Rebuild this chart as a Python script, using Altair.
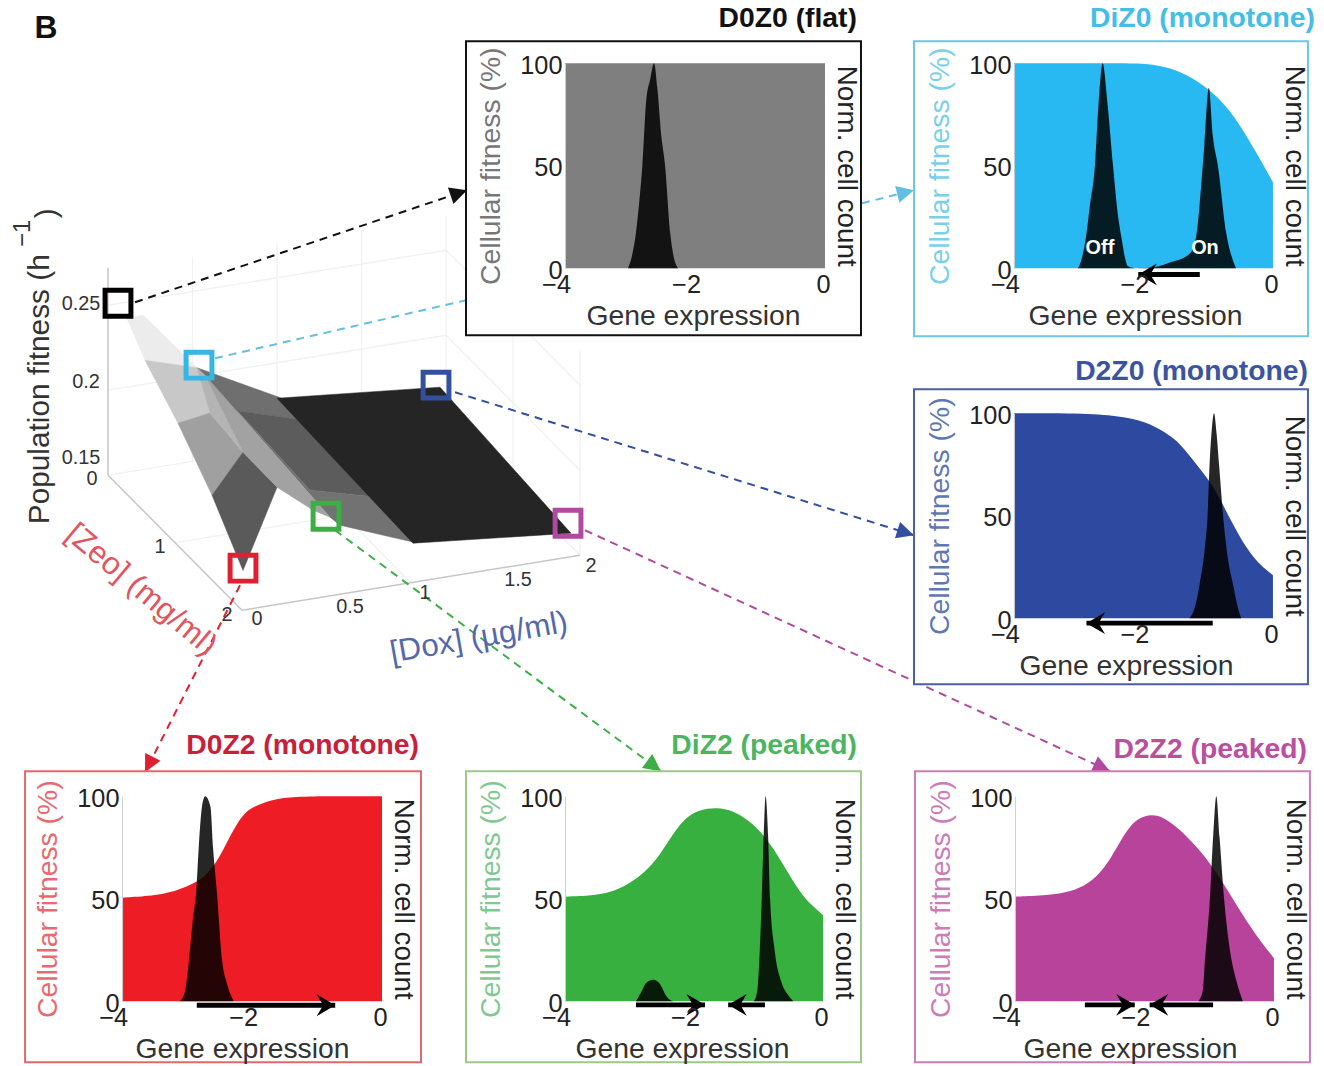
import math
import altair as alt
import pandas as pd

W, H = 1316, 1058
K = 0.994          # the taken picture is slightly reduced: layout positions are compensated
DY = 3
FONT = "Liberation Sans"

# ---- gene-expression curves -----------------------------------------------
d0z0_fit_x = [-4, -2, 0]
d0z0_fit_y = [100, 100, 100]
d0z0_cnt_x = [-3.03, -2.97, -2.91, -2.85, -2.81, -2.75, -2.69, -2.63, -2.58, -2.52, -2.46, -2.38, -2.33, -2.26]
d0z0_cnt_y = [0, 6, 17, 35, 50, 82, 92, 100, 88, 65, 50, 17, 6, 0]

diz0_fit_x = [-4, -3, -2.5, -2.08, -1.78, -1.57, -1.31, -1.06, -0.8, -0.54, -0.28, 0]
diz0_fit_y = [100, 100, 100, 100, 99, 97.5, 94, 89, 82, 71.5, 57.7, 42]
diz0_cnt_x = [-3.01, -2.96, -2.88, -2.83, -2.75, -2.69, -2.63, -2.56, -2.47, -2.39, -2.34, -2.24, -2.1,
              -1.83, -1.57, -1.31, -1.21, -1.16, -1.11, -1.06, -0.99, -0.93, -0.85, -0.72, -0.62, -0.57]
diz0_cnt_y = [0, 4, 17, 30, 50, 82, 100, 82, 50, 25, 15, 1, 0,
              0.5, 3, 6.5, 12, 22, 40, 60, 88, 65, 50, 17, 4, 0]

d2z0_fit_x = [-4, -2.86, -2.34, -1.98, -1.67, -1.42, -1.16, -0.95, -0.75, -0.54, -0.28, 0]
d2z0_fit_y = [100, 100, 98.5, 96, 91, 85, 74, 66, 54, 41, 28, 21]
d2z0_cnt_x = [-1.29, -1.21, -1.13, -1.05, -1.01, -0.98, -0.95, -0.91, -0.87, -0.83, -0.77, -0.7, -0.62, -0.54, -0.49]
d2z0_cnt_y = [0, 5, 17, 35, 50, 74, 90, 100, 90, 74, 50, 30, 17, 5, 0]

d0z2_fit_x = [-4, -3.51, -3.26, -3, -2.79, -2.59, -2.44, -2.28, -2.13, -1.97, -1.72, -1.46, -0.95, 0]
d0z2_fit_y = [50.5, 51.5, 53, 56, 59, 65.5, 74, 84, 91.5, 95, 98, 99.5, 100, 100]
d0z2_cnt_x = [-3.11, -3.03, -2.97, -2.91, -2.86, -2.82, -2.77, -2.72, -2.64, -2.6, -2.54, -2.46, -2.38, -2.28]
d0z2_cnt_y = [0, 5, 20, 40, 53, 75, 95, 100, 95, 75, 53, 20, 8, 0]

diz2_fit_x = [-4, -3.56, -3.3, -3.05, -2.79, -2.53, -2.32, -2.12, -1.91, -1.65, -1.39, -1.14, -0.88, -0.62, -0.36, -0.15, 0]
diz2_fit_y = [51, 51.5, 53, 56.5, 62, 71, 82, 90, 93.5, 94.5, 93, 88, 80, 67, 53, 46, 42]
diz2_cnt_x = [-2.9, -2.81, -2.74, -2.63, -2.53, -2.43, -2.32, -1.08, -1.02, -0.98, -0.95, -0.92, -0.89,
              -0.85, -0.82, -0.75, -0.65, -0.54, -0.46]
diz2_cnt_y = [0, 5, 9, 10.5, 8.5, 2.5, 0, 0, 5, 25, 50, 80, 100, 80, 50, 25, 10, 3, 0]

d2z2_fit_x = [-4, -3.49, -3.13, -2.87, -2.61, -2.41, -2.2, -2, -1.79, -1.58, -1.33, -1.07, -0.81, -0.56, -0.3, 0]
d2z2_fit_y = [51, 51.5, 53.5, 57, 65, 76, 87, 90.7, 91, 87, 80, 71, 59, 46, 33, 21]
d2z2_cnt_x = [-1.17, -1.1, -1.07, -0.99, -0.94, -0.89, -0.84, -0.77, -0.68, -0.58, -0.48]
d2z2_cnt_y = [0, 5, 18, 50, 80, 100, 80, 50, 25, 10, 0]

# arrows on each panel: start gene, end gene, fitness level of the arrow
diz0_arrows = [(-1.13, -2.08, -3)]
d2z0_arrows = [(-0.93, -2.88, -2.4)]
d0z2_arrows = [(-2.85, -0.72, -2)]
diz2_arrows = [(-2.9, -1.83, -1.8), (-0.9, -1.47, -1.8)]
d2z2_arrows = [(-2.92, -2.15, -1.8), (-0.94, -1.92, -1.8)]

# ---- layout of the six panels (page pixels) ---------------------------------
panels = [
    dict(name="D0Z0 (flat)", fx=d0z0_fit_x, fy=d0z0_fit_y, cx=d0z0_cnt_x, cy=d0z0_cnt_y, arrows=[],
         frame=(466, 41, 861, 335), plot=(565, 63, 825, 268), fill="#7f7f7f", edge="#111111",
         tcol="#111111", ycol="#777777", tx=857, ty=18, gx=693),
    dict(name="DiZ0 (monotone)", fx=diz0_fit_x, fy=diz0_fit_y, cx=diz0_cnt_x, cy=diz0_cnt_y, arrows=diz0_arrows,
         frame=(914, 41, 1308, 336), plot=(1014, 63, 1273, 268), fill="#29b9f2", edge="#6cc6e4",
         tcol="#45bde6", ycol="#7ad0ea", tx=1315, ty=18, gx=1135),
    dict(name="D2Z0 (monotone)", fx=d2z0_fit_x, fy=d2z0_fit_y, cx=d2z0_cnt_x, cy=d2z0_cnt_y, arrows=d2z0_arrows,
         frame=(914, 389, 1308, 684), plot=(1014, 413, 1273, 618), fill="#2e4aa0", edge="#4a5fa8",
         tcol="#3b54a0", ycol="#5f78b5", tx=1308, ty=371, gx=1126),
    dict(name="D0Z2 (monotone)", fx=d0z2_fit_x, fy=d0z2_fit_y, cx=d0z2_cnt_x, cy=d0z2_cnt_y, arrows=d0z2_arrows,
         frame=(25, 771, 421, 1062), plot=(122, 796, 382, 1001), fill="#ee1c25", edge="#e0696b",
         tcol="#c8203a", ycol="#e8696f", tx=419, ty=745, gx=242),
    dict(name="DiZ2 (peaked)", fx=diz2_fit_x, fy=diz2_fit_y, cx=diz2_cnt_x, cy=diz2_cnt_y, arrows=diz2_arrows,
         frame=(466, 771, 861, 1062), plot=(565, 796, 823, 1001), fill="#38b03f", edge="#9cc98a",
         tcol="#4bb560", ycol="#7fc991", tx=857, ty=745, gx=682),
    dict(name="D2Z2 (peaked)", fx=d2z2_fit_x, fy=d2z2_fit_y, cx=d2z2_cnt_x, cy=d2z2_cnt_y, arrows=d2z2_arrows,
         frame=(915, 771, 1310, 1062), plot=(1015, 796, 1274, 1001), fill="#b8439a", edge="#c97fb5",
         tcol="#bb4f9f", ycol="#cd7cb8", tx=1307, ty=749, gx=1130),
]

# ---- fitness landscape: (dox, zeo, fitness) vertices of each facet ----------
facets = [
    ("#ececec", [(.114, 0, .249), (.211, 0, .250), (.536, 0, .212), (0, .56, .247)]),
    ("#6f6f6f", [(.536, 0, .212), (1.04, 0, .1863), (1.04, .3, .1847), (.594, .4, .2007)]),
    ("#5c5c5c", [(.505, .2, .216), (.594, .4, .2007), (1.04, .3, .1847), (1.085, 1.3, .1765), (.70, 1.3, .1856)]),
    ("#727272", [(.505, .2, .216), (.70, 1.3, .1856), (1.085, 1.3, .1765), (1.06, 2, .1764), (.602, 2, .1936), (.542, 2, .1995)]),
    ("#252525", [(1.018, 0, .1863), (2.0, 0, .1808), (1.994, 2, .1706), (1.042, 2, .1764)]),
    ("#c8c8c8", [(0, .56, .247), (.536, 0, .212), (.296, .8, .2195), (0, 1.06, .2275)]),
    ("#a0a0a0", [(0, 1.06, .2275), (.296, .8, .2195), (.336, 1.2, .2105), (0, 1.576, .2028)]),
    ("#5a5a5a", [(0, 1.576, .2028), (.336, 1.2, .2105), (.382, 1.6, .2041), (.018, 2, .172)]),
    ("#b4b4b4", [(.536, 0, .212), (.505, .2, .216), (.336, 1.2, .2105), (.296, .8, .2195)]),
    ("#a2a2a2", [(.505, .2, .216), (.542, 2, .1995), (.44, 2, .2053), (.382, 1.6, .2041), (.336, 1.2, .2105)]),
]
marker_pts = [
    ("#000000", .06, 0, .2595), ("#35b6e3", .548, 0, .2135), ("#33509f", 1.976, 0, .1824),
    ("#e01f30", .018, 2, .1735), ("#3cae45", .518, 2, .2004), ("#b04a9e", 1.976, 2, .1772),
]


def surf(d, z, f):
    return 108 + 166 * d + 66 * z, 475 - 20 * d + 65 * z - 1560 * (f - .15)


def frm(d, z, f):
    return 108 + 169 * d + 67 * z, 475 - 27.5 * d + 67.5 * z - 1700 * (f - .15)


frame_grid = [((d, 0, .15), (d, 0, .27)) for d in (.5, 1, 1.5, 2)]
frame_grid += [((2, z, .15), (2, z, .27)) for z in (1, 2)]
frame_grid += [((0, 0, f), (2, 0, f)) for f in (.2, .25)]
frame_grid += [((2, 0, f), (2, 2, f)) for f in (.15, .2, .25)]
frame_grid += [((0, 1, .15), (2, 1, .15)), ((1, 0, .15), (1, 2, .15)), ((0, 0, .15), (2, 0, .15))]
frame_axes = [((0, 0, .15), (0, 2, .15)), ((0, 2, .15), (2, 2, .15)), ((0, 0, .15), (0, 0, .272))]

tick_labels = ["0.25", "0.2", "0.15", "0", "1", "2", "0", "0.5", "1", "1.5", "2"]
tick_x = [81, 86, 81, 92, 160, 227, 257, 350, 425, 518, 591]
tick_y = [304, 382, 458, 479, 547, 615, 619, 607, 593, 580, 566]

# connectors: x0, y0, x1, y1, colour, arrow head?
connectors = [
    (135, 302, 467, 190, "#111111", True),
    (215, 358, 466, 300, "#62bfdf", False),
    (862, 203, 914, 190, "#62bfdf", True),
    (455, 392, 914, 535, "#33509f", True),
    (585, 530, 1110, 771, "#b04a9e", True),
    (335, 530, 661, 771, "#3cae45", True),
    (240, 585, 145, 772, "#e01f30", True),
]


def cx(t):
    return t / K - 8


def cy(t):
    return (t - DY) / K - 8


SX = alt.Scale(domain=[8 * K, (8 + W) * K], range=[0, W], nice=False, zero=False)
SY = alt.Scale(domain=[8 * K + DY, (8 + H) * K + DY], range=[0, H], nice=False, zero=False)
XP = lambda f: alt.X(f, type="quantitative", scale=SX, axis=None)
YP = lambda f: alt.Y(f, type="quantitative", scale=SY, axis=None)
HEAD_R = "M0,0 L-1.7,-1 L-1.1,0 L-1.7,1 Z"
HEAD_L = "M0,0 L1.7,-1 L1.1,0 L1.7,1 Z"
CONN_HEAD = "M0,0 L-2,-1 L-2,1 Z"

layers = []


def segs(pairs, proj, color, width):
    rows = []
    for k, (a, b) in enumerate(pairs):
        for i, p in enumerate((a, b)):
            sx, sy = proj(*p)
            rows.append(dict(sx=sx, sy=sy, k=k, i=i))
    return alt.Chart(pd.DataFrame(rows)).mark_line(color=color, strokeWidth=width).encode(
        x=XP("sx"), y=YP("sy"), detail="k:N", order="i:Q")


def text(t, x, y, size, color, weight="normal", angle=0, align="center"):
    kw = dict(fontSize=size, color=color, fontWeight=weight, align=align, baseline="middle", font=FONT)
    if angle:
        kw["angle"] = angle
    return alt.Chart(pd.DataFrame(dict(sx=[x], sy=[y], t=[t]))).mark_text(**kw).encode(
        x=XP("sx"), y=YP("sy"), text="t:N")


# 3-D frame
layers.append(segs(frame_grid, frm, "#f1f1f1", 1.3))
layers.append(segs(frame_axes, frm, "#c6c6c6", 1.5))

# surface
for color, verts in facets:
    rows = [dict(zip(("sx", "sy"), surf(*v)), i=i) for i, v in enumerate(verts)]
    layers.append(alt.Chart(pd.DataFrame(rows)).mark_line(
        interpolate="linear-closed", fill=color, stroke=color, strokeWidth=0.5).encode(
        x=XP("sx"), y=YP("sy"), order="i:Q"))

# connectors
for x0, y0, x1, y1, col, head in connectors:
    df = pd.DataFrame(dict(a=[x0], b=[y0], c=[x1], d=[y1]))
    layers.append(alt.Chart(df).mark_rule(color=col, strokeWidth=2, strokeDash=[8, 6]).encode(
        x=XP("a"), y=YP("b"), x2="c:Q", y2="d:Q"))
    if head:
        ang = (math.degrees(math.atan2(y1 - y0, x1 - x0)) + 360) % 360
        layers.append(alt.Chart(df).mark_point(
            shape=CONN_HEAD, size=300, filled=True, color=col, opacity=1, angle=ang).encode(
            x=XP("c"), y=YP("d")))

# panels
for p in panels:
    fx0, fy0, fx1, fy1 = p["frame"]
    left, top, right, bottom = p["plot"]
    layers.append(alt.Chart(pd.DataFrame(dict(a=[fx0], b=[fy0], c=[fx1], d=[fy1]))).mark_rect(
        fill="white", stroke=p["edge"], strokeWidth=2).encode(
        x=XP("a"), y=YP("b"), x2="c:Q", y2="d:Q"))

    sx = alt.Scale(domain=[-4, 0], range=[cx(left), cx(right)], nice=False, zero=False)
    sy = alt.Scale(domain=[0, 100], range=[cy(bottom), cy(top)], nice=False, zero=False)

    x_axis = alt.Axis(
        orient="bottom", offset=cy(bottom) - H, values=[-4, -2, 0], grid=False, domain=False, ticks=False,
        labelExpr="datum.value < 0 ? '\u2212' + abs(datum.value) : '0'",
        labelFont=FONT, labelFontSize=25.5, labelColor="#222222", labelPadding=4,
        labelOffset={"condition": {"test": "datum.value < 0", "value": -9}, "value": -2},
        labelFlush=False, labelOverlap=False, labelBound=False,
        title="Gene expression", titleFont=FONT, titleFontSize=28.5, titleFontWeight="normal",
        titleColor="#333333", titlePadding=4.5, titleX=cx(p["gx"]), zindex=1)
    y_axis = alt.Axis(
        orient="left", offset=-cx(left), values=[0, 50, 100], grid=False, domain=True, domainColor="#cfcfcf",
        domainWidth=1, ticks=False, labelFont=FONT, labelFontSize=25.5, labelColor="#222222", labelPadding=3,
        labelOffset=2, labelOverlap=False, labelBound=False,
        title="Cellular fitness (%)", titleFont=FONT, titleFontSize=28.5, titleFontWeight="normal",
        titleColor=p["ycol"], titlePadding=14, zindex=1)
    layers.append(alt.Chart(pd.DataFrame(dict(g=p["fx"], v=p["fy"]))).mark_area(
        color=p["fill"], interpolate="basis", opacity=1).encode(
        x=alt.X("g:Q", scale=sx, axis=x_axis), y=alt.Y("v:Q", scale=sy, axis=y_axis, stack=None)))

    r_axis = alt.Axis(
        orient="right", offset=cx(right) - W, values=[], grid=False, domain=False, ticks=False, labels=False,
        title="Norm. cell count", titleFont=FONT, titleFontSize=28, titleFontWeight="normal",
        titleColor="#222222", titlePadding=7, zindex=1)
    layers.append(alt.Chart(pd.DataFrame(dict(g=p["cx"], v=p["cy"]))).mark_area(
        color="#000000", opacity=0.85, interpolate="monotone").encode(
        x=alt.X("g:Q", scale=sx, axis=None), y=alt.Y("v:Q", scale=sy, axis=r_axis, stack=None)))

    for g0, g1, lvl in p["arrows"]:
        df = pd.DataFrame(dict(a=[g0], c=[g1], v=[lvl]))
        layers.append(alt.Chart(df).mark_rule(color="#000000", strokeWidth=5).encode(
            x=alt.X("a:Q", scale=sx, axis=None), x2="c:Q", y=alt.Y("v:Q", scale=sy, axis=None)))
        layers.append(alt.Chart(df).mark_point(
            shape=HEAD_R if g1 > g0 else HEAD_L, size=484, filled=True, color="#000000", opacity=1).encode(
            x=alt.X("c:Q", scale=sx, axis=None), y=alt.Y("v:Q", scale=sy, axis=None)))

    layers.append(text(p["name"], p["tx"], p["ty"], 28.5, p["tcol"], "bold", align="right"))

# surface markers
for col, d, z, f in marker_pts:
    sx_, sy_ = surf(d, z, f)
    layers.append(alt.Chart(pd.DataFrame(dict(sx=[sx_], sy=[sy_]))).mark_point(
        shape="square", size=676, filled=False, stroke=col, strokeWidth=5, opacity=1).encode(
        x=XP("sx"), y=YP("sy")))

# free text
layers.append(alt.Chart(pd.DataFrame(dict(sx=tick_x, sy=tick_y, t=tick_labels))).mark_text(
    fontSize=20, color="#333333", font=FONT, align="center", baseline="middle").encode(
    x=XP("sx"), y=YP("sy"), text="t:N"))
layers.append(text("B", 46, 28, 32, "#111111", "bold"))
layers.append(text("Off", 1100, 248, 20, "#ffffff", "bold"))
layers.append(text("On", 1205, 248, 20, "#ffffff", "bold"))
layers.append(text("Population fitness (h", 40, 389, 30, "#333333", angle=270))
layers.append(text("\u22121", 23, 233, 24, "#333333", angle=270))
layers.append(text(")", 47, 213, 30, "#333333", angle=270))
layers.append(text("[Zeo] (mg/ml)", 141, 590, 31.5, "#e0555f", angle=40))
layers.append(text("[Dox] (\u00b5g/ml)", 479, 638, 31.5, "#5468ad", angle=350))

chart = alt.layer(*layers).resolve_scale(x="independent", y="independent").resolve_axis(
    x="independent", y="independent").properties(
    width=W, height=H, padding=0, autosize=alt.AutoSizeParams(type="none")
).configure_view(stroke=None)

chart.save("out.html", embed_options={"renderer": "svg", "actions": False})
